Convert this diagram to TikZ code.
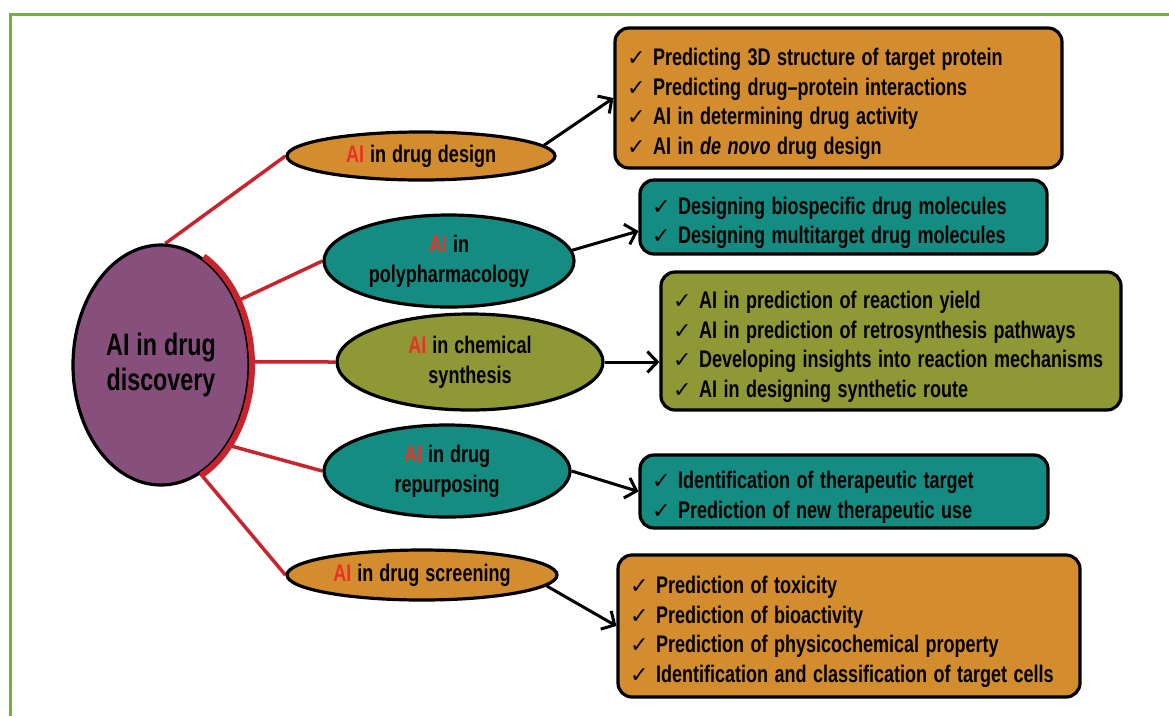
\documentclass[tikz,border=0pt]{standalone}
\usepackage{fontspec}
\setmainfont{Liberation Sans}[FakeStretch=0.75]
\newfontfamily\chkfont{DejaVu Sans}
\usetikzlibrary{arrows.meta,shapes.geometric,backgrounds}

\definecolor{framegreen}{RGB}{112,178,68}
\definecolor{discpurple}{RGB}{135,80,124}
\definecolor{boxorange}{RGB}{211,141,46}
\definecolor{boxteal}{RGB}{20,140,130}
\definecolor{boxolive}{RGB}{142,152,52}
\definecolor{linkred}{RGB}{200,36,46}
\definecolor{aired}{RGB}{236,48,40}

\newcommand{\ai}{\textcolor{aired}{AI}}
\newcommand{\okmark}{\makebox[26pt][l]{\chkfont\mdseries\fontsize{22}{22}\selectfont ✓}}
\newcommand{\okline}[1]{\mbox{\spaceskip 6.5pt\relax\okmark #1}}
\newcommand{\listfont}{\fontsize{24}{29.5}\selectfont\bfseries}
\newcommand{\branchfont}{\fontsize{24}{30}\selectfont\bfseries\spaceskip 6pt\relax}
\newcommand{\discfont}{\fontsize{31}{35}\selectfont\bfseries\spaceskip 7pt\relax}

\tikzset{
  branch/.style={ellipse, draw=black, line width=3.2pt, inner sep=0pt, align=center, font=\branchfont},
  listbox/.style={rectangle, rounded corners=14pt, draw=black, line width=3.2pt,
    inner xsep=12pt, inner ysep=0pt, align=left, font=\listfont,
    execute at begin node={\rule{0pt}{29pt}}},
  redline/.style={draw=linkred, line width=3.5pt},
  arr/.style={draw=black, line width=3pt, -{Straight Barb[length=10pt,width=21pt]}}
}

\begin{document}
\begin{tikzpicture}[x=1pt,y=1pt]
        	\useasboundingbox (0,0) rectangle (1169,-716);
        	% Frame:
        	\draw[framegreen, line width=3pt] (1169,-14) -- (10,-14) -- (10,-716);

        	% Centre and branches:
        	\node[ellipse, draw=black, line width=3.2pt, fill=discpurple, minimum width=176pt, minimum height=240pt,
        	  inner sep=0pt, align=center, font=\discfont] (disc) at (161,-365) {AI in drug\\discovery};
        	\node[branch, fill=boxorange, minimum width=268pt, minimum height=48pt] (design) at (421,-156) {\ai{} in drug design};
        	\node[branch, fill=boxteal, minimum width=250pt, minimum height=92pt] (poly) at (449,-261) {\ai{} in\\polypharmacology};
        	\node[branch, fill=boxolive, minimum width=266pt, minimum height=96pt] (chem) at (470,-362) {\ai{} in chemical\\synthesis};
        	\node[branch, fill=boxteal, minimum width=246pt, minimum height=92pt] (repurp) at (447,-471) {\ai{} in drug\\repurposing};
        	\node[branch, fill=boxorange, minimum width=270pt, minimum height=50pt] (screen) at (422,-575) {\ai{} in drug screening};

        	% Lists:
        	\node[listbox, fill=boxorange, text width=423pt, minimum height=140pt] (box1) at (838.5,-98) {%
        	  \okline{Predicting 3D structure of target protein}\\
        	  \okline{Predicting drug--protein interactions}\\
        	  \okline{AI in determining drug activity}\\
        	  \okline{AI in \textit{de novo} drug design}};
        	\node[listbox, fill=boxteal, text width=383pt, minimum height=74pt] (box2) at (843.5,-217) {%
        	  \okline{Designing biospecific drug molecules}\\
        	  \okline{Designing multitarget drug molecules}};
        	\node[listbox, fill=boxolive, text width=436pt, minimum height=138pt] (box3) at (891,-341) {%
        	  \okline{AI in prediction of reaction yield}\\
        	  \okline{AI in prediction of retrosynthesis pathways}\\
        	  \okline{Developing insights into reaction mechanisms}\\
        	  \okline{AI in designing synthetic route}};
        	\node[listbox, fill=boxteal, text width=384pt, minimum height=73pt] (box4) at (844,-491.5) {%
        	  \okline{Identification of therapeutic target}\\
        	  \okline{Prediction of new therapeutic use}};
        	\node[listbox, fill=boxorange, text width=438pt, minimum height=142pt] (box5) at (849,-626) {%
        	  \okline{Prediction of toxicity}\\
        	  \okline{Prediction of bioactivity}\\
        	  \okline{Prediction of physicochemical property}\\
        	  \okline{Identification and classification of target cells}};

        	% Red links behind the nodes:
        	\begin{pgfonlayer}{background}
        	\draw[redline] (disc.88) -- (design.west);
        	\draw[redline] (disc.40) -- (poly.west);
        	\draw[redline] (disc.2) -- (chem.west);
        	\draw[redline] (disc.-50) -- (repurp.west);
        	\draw[redline] (disc.-70) -- (screen.west);
        	\end{pgfonlayer}
        	\draw[linkred, line width=6pt] ([shift={(62:91pt and 123pt)}]disc.center)
        	  arc[start angle=62, end angle=-64, x radius=91pt, y radius=123pt];

        	% Arrows:
        	\draw[arr] (design.5) -- (box1.west);
        	\draw[arr] (poly.5) -- ([yshift=-14pt]box2.west);
        	\draw[arr] (chem.east) -- (chem.east -| box3.west);
        	\draw[arr] (repurp.east) -- (box4.west);
        	\draw[arr] (screen.-5) -- (box5.west);
        \end{tikzpicture}
\end{document}
